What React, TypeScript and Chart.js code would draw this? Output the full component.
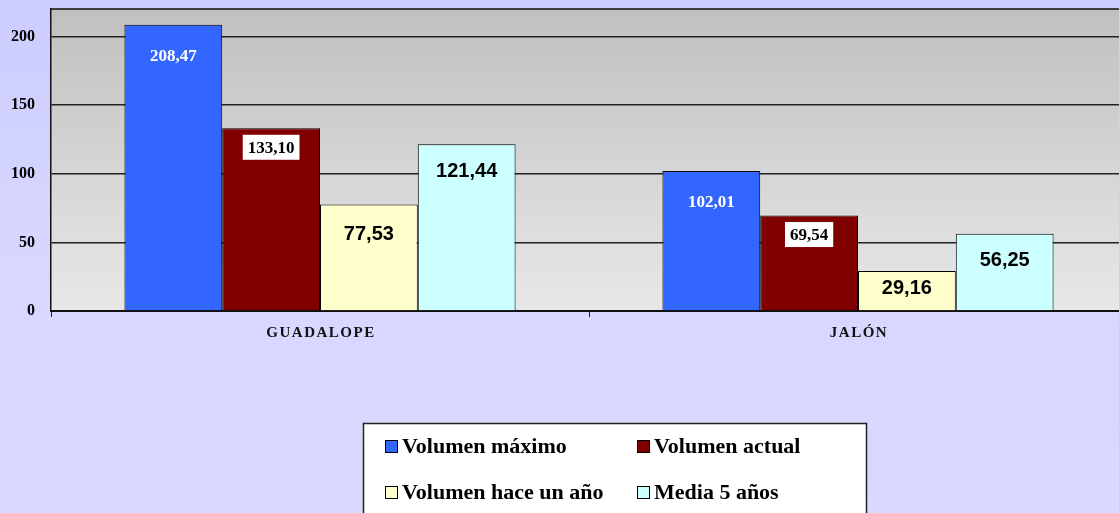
import React, { useEffect, useRef } from "react";
import { Chart, registerables } from "chart.js";

Chart.register(...registerables);

const categories = ["GUADALOPE", "JALÓN"];
const seriesNames = ["Volumen máximo", "Volumen actual", "Volumen hace un año", "Media 5 años"];
const volumenMaximo = [208.47, 102.01];
const volumenActual = [133.1, 69.54];
const volumenHaceUnAno = [77.53, 29.16];
const media5Anos = [121.44, 56.25];
const yTicks = [0, 50, 100, 150, 200];
const yMax = 220;

const seriesColors = ["#3366FF", "#800000", "#FFFFCC", "#CCFFFF"];

const SERIF = '"Liberation Serif", "Times New Roman", serif';
const SANS = '"Liberation Sans", Arial, sans-serif';

const labelStyles = [
  { font: `bold 17px ${SERIF}`, color: "#FFFFFF", offset: 31, box: false },
  { font: `bold 17px ${SERIF}`, color: "#000000", offset: 19, box: true },
  { font: `bold 20px ${SANS}`, color: "#000000", offset: 29, box: false },
  { font: `bold 20px ${SANS}`, color: "#000000", offset: 26, box: false },
];

const fmt = (v: number) => v.toFixed(2).replace(".", ",");

const CANVAS_W = 1135;
const CANVAS_H = 513;

const plotBgPlugin = {
  id: "plotBg",
  beforeDraw(chart: any) {
    const { ctx, chartArea } = chart;
    if (!chartArea) return;
    const g = ctx.createLinearGradient(0, chartArea.top, 0, chartArea.bottom);
    g.addColorStop(0, "#C0C0C0");
    g.addColorStop(1, "#E8E8E8");
    ctx.save();
    ctx.fillStyle = g;
    ctx.fillRect(chartArea.left, chartArea.top, chartArea.right - chartArea.left, chartArea.bottom - chartArea.top);
    ctx.restore();
  },
  afterDraw(chart: any) {
    const { ctx, chartArea } = chart;
    ctx.save();
    ctx.strokeStyle = "#111";
    ctx.lineWidth = 1.5;
    ctx.beginPath();
    ctx.moveTo(chartArea.left, chartArea.top);
    ctx.lineTo(chartArea.right, chartArea.top);
    ctx.stroke();
    ctx.restore();
  },
};

const valueLabelPlugin = {
  id: "valueLabels",
  afterDatasetsDraw(chart: any) {
    const ctx = chart.ctx;
    chart.data.datasets.forEach((ds: any, di: number) => {
      const meta = chart.getDatasetMeta(di);
      const st = labelStyles[di];
      meta.data.forEach((el: any, i: number) => {
        const text = fmt(ds.data[i]);
        const h = el.base - el.y;
        const cy = el.y + Math.min(st.offset, h / 2 - 3);
        ctx.save();
        ctx.font = st.font;
        ctx.textAlign = "center";
        ctx.textBaseline = "middle";
        if (st.box) {
          const w = ctx.measureText(text).width + 10;
          ctx.fillStyle = "#FFFFFF";
          ctx.fillRect(el.x - w / 2, cy - 12.5, w, 25);
        }
        ctx.fillStyle = st.color;
        ctx.fillText(text, el.x, cy + 1);
        ctx.restore();
      });
    });
  },
};

const categoryLabelPlugin = {
  id: "categoryLabels",
  afterDraw(chart: any) {
    const ctx = chart.ctx;
    const xs = chart.scales.x;
    ctx.save();
    ctx.font = `bold 15px ${SERIF}`;
    (ctx as any).letterSpacing = "1.5px";
    ctx.fillStyle = "#111";
    ctx.textAlign = "center";
    ctx.textBaseline = "middle";
    categories.forEach((c, i) => {
      ctx.fillText(c, xs.getPixelForValue(i) + 1, 333);
    });
    ctx.restore();
  },
};

const legendPlugin = {
  id: "boxLegend",
  afterDraw(chart: any) {
    const ctx = chart.ctx;
    ctx.save();
    ctx.fillStyle = "#FFFFFF";
    ctx.fillRect(364, 424, 503, 120);
    ctx.strokeStyle = "#222";
    ctx.lineWidth = 1.5;
    ctx.strokeRect(363.5, 423.5, 503, 120);
    const cols = [385, 637];
    const rows = [440, 486];
    ctx.font = `bold 22px ${SERIF}`;
    ctx.textBaseline = "middle";
    ctx.textAlign = "left";
    chart.data.datasets.forEach((ds: any, i: number) => {
      const x = cols[i % 2];
      const y = rows[Math.floor(i / 2)];
      ctx.fillStyle = ds.backgroundColor;
      ctx.fillRect(x, y, 13, 13);
      ctx.strokeStyle = "#000";
      ctx.lineWidth = 1;
      ctx.strokeRect(x + 0.5, y + 0.5, 12, 12);
      ctx.fillStyle = "#000";
      ctx.fillText(ds.label, x + 17, y + 7);
    });
    ctx.restore();
  },
};

export default function App() {
  const ref = useRef<HTMLCanvasElement | null>(null);

  useEffect(() => {
    if (!ref.current) return;
    const seriesValues = [volumenMaximo, volumenActual, volumenHaceUnAno, media5Anos];
    const chart = new Chart(ref.current, {
      type: "bar",
      data: {
        labels: categories,
        datasets: seriesValues.map((vals, i) => ({
          label: seriesNames[i],
          data: vals,
          backgroundColor: seriesColors[i],
          borderColor: "#000",
          borderWidth: 1,
          barPercentage: 1,
          categoryPercentage: 0.727,
        })),
      },
      options: {
        responsive: false,
        animation: false,
        devicePixelRatio: 1,
        layout: { padding: { top: 9, right: 8, left: 0, bottom: 0 } },
        plugins: {
          legend: { display: false },
          tooltip: { enabled: false },
        },
        scales: {
          x: {
            offset: true,
            grid: {
              offset: true,
              drawOnChartArea: false,
              drawTicks: true,
              tickLength: 6,
              color: "#222",
            },
            border: { display: true, color: "#111", width: 2 },
            ticks: { display: false },
            afterFit: (s: any) => {
              s.height = 202;
              s.paddingLeft = 0;
              s.paddingRight = 0;
            },
          },
          y: {
            min: 0,
            max: yMax,
            afterBuildTicks: (s: any) => {
              s.ticks = yTicks.map((v) => ({ value: v }));
            },
            grid: { color: "#222", lineWidth: 1.5, drawTicks: false },
            border: { display: true, color: "#111", width: 1.5 },
            ticks: {
              padding: 16,
              color: "#000",
              font: { family: SERIF, size: 16, weight: "bold" },
              callback: (v: any) => String(v),
            },
            afterFit: (s: any) => {
              s.width = 51;
              s.paddingTop = 0;
              s.paddingBottom = 0;
            },
          },
        },
      },
      plugins: [plotBgPlugin, valueLabelPlugin, categoryLabelPlugin, legendPlugin],
    } as any);
    return () => chart.destroy();
  }, []);

  return (
    <div
      style={{
        position: "fixed",
        left: 0,
        top: 0,
        width: 1119,
        height: 513,
        overflow: "hidden",
        background: "linear-gradient(to bottom, #CCCCFF 0%, #D6D6FF 45%, #D9D9FF 100%)",
      }}
    >
      <canvas ref={ref} width={CANVAS_W} height={CANVAS_H} style={{ width: CANVAS_W, height: CANVAS_H, display: "block" }} />
    </div>
  );
}
